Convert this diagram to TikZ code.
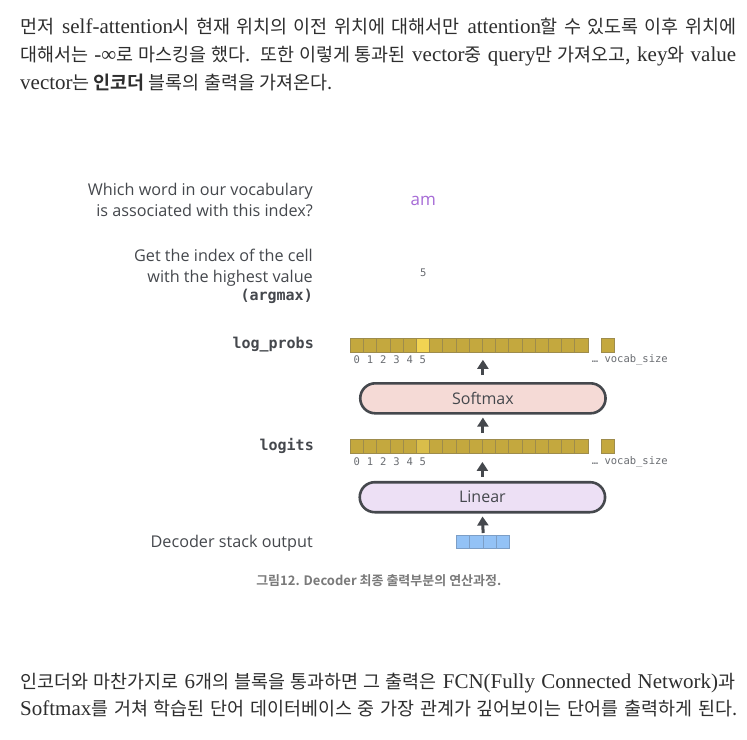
\documentclass[tikz,border=0pt]{standalone}
\usepackage{fontspec}
\setmainfont{Liberation Serif}
\newfontfamily\kr{Noto Sans CJK KR}[BoldFont={Noto Sans CJK KR Bold}]
\newfontfamily\krp{Noto Sans CJK KR}[Scale=0.88, BoldFont={Noto Sans CJK KR Bold}]
\newfontfamily\osans{Open Sans}
\newfontfamily\dmono{DejaVu Sans Mono}
\usetikzlibrary{arrows.meta,shapes.misc}

\definecolor{txtgray}{HTML}{2E2E2E}
\definecolor{labgray}{HTML}{45484D}
\definecolor{idxgray}{HTML}{6A6D72}
\definecolor{gold}{HTML}{C4A83E}
\definecolor{goldhi}{HTML}{F2D352}
\definecolor{goldmid}{HTML}{D9BD4A}
\definecolor{goldline}{HTML}{9E8C4C}
\definecolor{pinkfill}{HTML}{F5DAD6}
\definecolor{lilacfill}{HTML}{EDE0F5}
\definecolor{bluefill}{HTML}{93C2F6}
\definecolor{blueline}{HTML}{7C9EC6}
\definecolor{ampurple}{HTML}{A66BD6}
\definecolor{capgray}{HTML}{7A7A7A}

\tikzset{
  cell/.style={draw=goldline, fill=gold, line width=0.6pt, minimum width=13.2pt,
    minimum height=14pt, inner sep=0pt, anchor=north west},
  bluecell/.style={cell, draw=blueline, fill=bluefill, minimum width=13.3pt, minimum height=13.3pt},
  idx/.style={font=\dmono\fontsize{10.5}{12}\selectfont, text=idxgray, inner sep=0pt},
  block/.style={rounded rectangle, draw=labgray, line width=2.6pt, minimum width=252pt,
    minimum height=30pt, font=\osans\fontsize{16}{19}\selectfont, text=labgray},
  uparrow/.style={-{Triangle[width=11pt,length=9pt]}, line width=3pt, draw=labgray},
  lab/.style={anchor=east, align=right, text=labgray, inner sep=0pt,
    font=\osans\fontsize{16.2}{21.4}\selectfont},
  monolab/.style={anchor=east, text=labgray, inner sep=0pt,
    font=\dmono\bfseries\fontsize{15}{18}\selectfont},
  para/.style={anchor=base west, inner sep=0pt, text=txtgray,
    font=\fontsize{21}{24}\selectfont}
}

\begin{document}
\begin{tikzpicture}[x=1pt,y=-1pt]
  \useasboundingbox[fill=white] (0,0) rectangle (747,739);

  % Text above
  \node[para] (top1) at (20,33) {\makebox[716pt][s]{{\krp 먼저} self-attention{\krp 시 현재 위치의 이전 위치에 대해서만} attention{\krp 할 수 있도록 이후 위치에}}};
  \node[para] (top2) at (20,61) {\makebox[716pt][s]{{\krp 대해서는} -∞{\krp 로 마스킹을 했다.} {\krp 또한 이렇게 통과된} vector{\krp 중} query{\krp 만 가져오고,} key{\krp 와} value}};
  \node[para] (top3) at (20,89) {vector{\krp 는 \textbf{인코더} 블록의 출력을 가져온다.}};

  % Questions on the left
  \node[lab] (qword) at (313,200) {Which word in our vocabulary\\is associated with this index?};
  \node[lab] (qindex) at (313,268) {Get the index of the cell\\with the highest value};
  \node[monolab] (qargmax) at (313,296.7) {(argmax)};

  % Answers
  \node[text=ampurple, font=\osans\fontsize{17}{20}\selectfont] (word) at (423.3,200.7) {am};
  \node[idx] (index) at (423.3,272.7) {5};

  % log_probs row
  \node[monolab] (lplab) at (314,345) {log\_probs};
  \foreach \i in {0,...,17}{
    \ifnum\i=5 \def\cc{goldhi}\else\def\cc{gold}\fi
    \node[cell, fill=\cc] (lp\i) at ({350+13.2*\i},337.7) {};
  }
  \node[cell] (lpend) at (600.7,337.7) {};
  \foreach \i in {0,...,5}
    \node[idx] (lpi\i) at ([yshift=-7.6pt]lp\i.south) {\i};
  \node[idx, anchor=west] (lpvocab) at (591.7,359.3) {… vocab\_size};

  % Softmax
  \node[block, fill=pinkfill] (softmax) at (482.9,398.3) {Softmax};

  % logits row
  \node[monolab] (lglab) at (314,445.7) {logits};
  \foreach \i in {0,...,17}{
    \ifnum\i=5 \def\cc{goldmid}\else\def\cc{gold}\fi
    \node[cell, fill=\cc] (lg\i) at ({350+13.2*\i},439) {};
  }
  \node[cell] (lgend) at (600.7,439) {};
  \foreach \i in {0,...,5}
    \node[idx] (lgi\i) at ([yshift=-8pt]lg\i.south) {\i};
  \node[idx, anchor=west] (lgvocab) at (591.7,461.7) {… vocab\_size};

  % Linear
  \node[block, fill=lilacfill] (linear) at (482.4,497.2) {Linear};

  % Decoder stack output
  \node[lab] (declab) at (313,543.3) {Decoder stack output};
  \foreach \i in {0,...,3}
    \node[bluecell] (dec\i) at ({456+13.3*\i},535) {};

  % Arrows
  \draw[uparrow, shorten <=7pt, shorten >=7.5pt] (softmax.north) -- (softmax.north |- lp9.south);
  \draw[uparrow, shorten <=6pt, shorten >=3pt] (softmax.south |- lg9.north) -- (softmax.south);
  \draw[uparrow, shorten <=4pt, shorten >=8.3pt] (linear.north) -- (linear.north |- lg9.south);
  \draw[uparrow, shorten <=2pt, shorten >=3pt] (dec1.north east) -- (linear.south);

  % Caption
  \node[text=capgray, font=\kr\bfseries\fontsize{13}{15}\selectfont] (caption) at (378.8,580.7) {그림12. Decoder 최종 출력부분의 연산과정.};

  % Text below
  \node[para] (bot1) at (20,688) {\makebox[715pt][s]{{\krp 인코더와 마찬가지로} 6{\krp 개의 블록을 통과하면 그 출력은} FCN(Fully Connected Network){\krp 과}}};
  \node[para] (bot2) at (20,715) {\makebox[717pt][s]{Softmax{\krp 를 거쳐 학습된 단어 데이터베이스 중 가장 관계가 깊어보이는 단어를 출력하게 된다.}}};
\end{tikzpicture}
\end{document}
